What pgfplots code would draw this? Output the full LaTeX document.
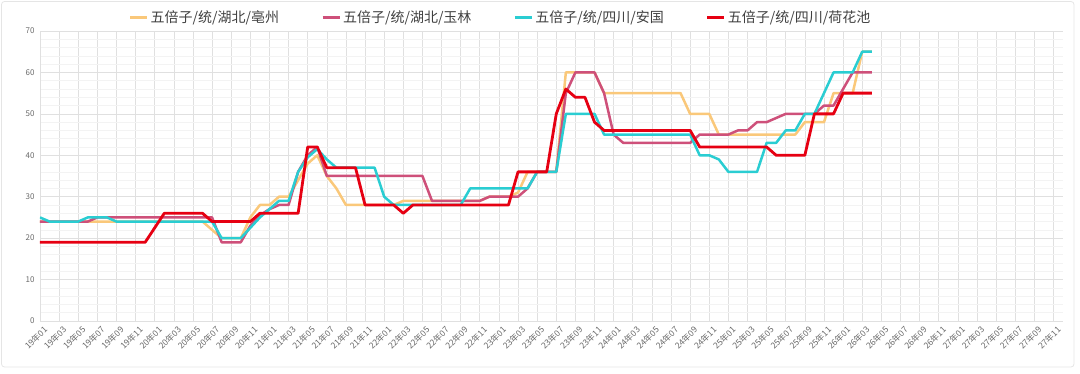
\documentclass[border=0pt]{standalone}
\usepackage{pgfplots}
\pgfplotsset{compat=1.18}
\usepackage{pgfplotstable}
\usepackage{fontspec}
\setmainfont{Noto Sans CJK SC}
\definecolor{cOr}{RGB}{250,200,122}
\definecolor{cMg}{RGB}{206,80,122}
\definecolor{cTl}{RGB}{42,205,210}
\definecolor{cRd}{RGB}{230,0,18}
\definecolor{gridc}{RGB}{224,224,224}
\definecolor{mgridc}{RGB}{243,243,243}
\definecolor{tickc}{RGB}{105,105,105}

\pgfplotstableread{
x a b c d
0 24 24 25 19
1 24 24 24 19
2 24 24 24 19
3 24 24 24 19
4 24 24 24 19
5 24 24 25 19
6 24 25 25 19
7 24 25 25 19
8 24 25 24 19
9 24 25 24 19
10 24 25 24 19
11 24 25 24 19
12 24 25 24 22.5
13 24 25 24 26
14 24 25 24 26
15 24 25 24 26
16 24 25 24 26
17 24 25 24 26
18 22 25 24 24
19 20 19 20 24
20 20 19 20 24
21 20 19 20 24
22 25 23 22.5 24
23 28 25.5 25 26
24 28 27 27 26
25 30 28 29 26
26 30 28 29 26
27 34 36 36 26
28 38 40 39.5 42
29 40 42 41.5 42
30 35 35 39 37
31 32 35 37 37
32 28 35 37 37
33 28 35 37 37
34 28 35 37 28
35 28 35 37 28
36 28 35 30 28
37 28 35 28 28
38 29 35 28 26
39 29 35 28 28
40 29 35 28 28
41 29 29 28 28
42 29 29 28 28
43 29 29 28 28
44 29 29 28 28
45 29 29 32 28
46 29 29 32 28
47 30 30 32 28
48 30 30 32 28
49 30 30 32 28
50 31 30 32 36
51 36 32 32 36
52 36 36 36 36
53 36 36 36 36
54 36 36 36 50
55 60 55 50 56
56 60 60 50 54
57 60 60 50 54
58 60 60 50 48
59 55 55 45 46
60 55 45 45 46
61 55 43 45 46
62 55 43 45 46
63 55 43 45 46
64 55 43 45 46
65 55 43 45 46
66 55 43 45 46
67 55 43 45 46
68 50 43 45 46
69 50 45 40 42
70 50 45 40 42
71 45 45 39 42
72 45 45 36 42
73 45 46 36 42
74 45 46 36 42
75 45 48 36 42
76 45 48 43 42
77 45 49 43 40
78 45 50 46 40
79 45 50 46 40
80 48 50 50 40
81 48 50 50 50
82 48 52 55 50
83 55 52 60 50
84 55 56 60 55
85 55 60 60 55
86 65 60 65 55
87 65 60 65 55
}\data

\begin{document}
\begin{tikzpicture}
\useasboundingbox (-40pt,-53pt) rectangle (1040pt,321pt);
\draw[rounded corners=3pt, color=black!10, line width=0.8pt] (-38.5pt,-46pt) rectangle (1034pt,319.5pt);
\begin{axis}[
  scale only axis, width=1023pt, height=290pt,
  at={(0,0)}, anchor=south west,
  xmin=0, xmax=107, ymin=0, ymax=70,
  xtick={0,2,...,106},
  xticklabels={19年01,19年03,19年05,19年07,19年09,19年11,
    20年01,20年03,20年05,20年07,20年09,20年11,
    21年01,21年03,21年05,21年07,21年09,21年11,
    22年01,22年03,22年05,22年07,22年09,22年11,
    23年01,23年03,23年05,23年07,23年09,23年11,
    24年01,24年03,24年05,24年07,24年09,24年11,
    25年01,25年03,25年05,25年07,25年09,25年11,
    26年01,26年03,26年05,26年07,26年09,26年11,
    27年01,27年03,27年05,27年07,27年09,27年11},
  ytick={0,10,...,70}, minor y tick num=4,
  xmajorgrids, ymajorgrids, yminorgrids,
  major grid style={draw=gridc, line width=0.6pt},
  minor grid style={draw=mgridc, line width=0.5pt},
  axis x line=bottom, axis y line=left,
  axis line style={draw=gridc, -, line width=0.6pt},
  major tick length=0pt, minor tick length=0pt,
  /pgf/number format/assume math mode=true,
  tick label style={font=\fontsize{8}{9}\selectfont, text=tickc},
  xticklabel style={font=\fontsize{8.5}{9}\selectfont, rotate=45, anchor=north east, inner sep=1pt, yshift=-4pt},
  yticklabel style={xshift=-2pt},
  legend columns=4,
  legend style={at={(0.5,1)}, anchor=center, xshift=-51pt, yshift=14pt,
    draw=none, fill=none, font=\fontsize{14}{16}\selectfont, text=black!75,
    /tikz/every even column/.append style={column sep=40pt}},
  legend cell align=left,
  legend image code/.code={\draw[#1, line width=3pt] (0pt,0pt) -- (17pt,0pt);},
]
\addplot[cOr, line width=2.5pt, line join=round] table[x=x,y=a]{\data};
\addlegendentry{五倍子/统/湖北/亳州}
\addplot[cMg, line width=2.5pt, line join=round] table[x=x,y=b]{\data};
\addlegendentry{五倍子/统/湖北/玉林}
\addplot[cTl, line width=2.5pt, line join=round] table[x=x,y=c]{\data};
\addlegendentry{五倍子/统/四川/安国}
\addplot[cRd, line width=2.8pt, line join=round] table[x=x,y=d]{\data};
\addlegendentry{五倍子/统/四川/荷花池}
\end{axis}
\end{tikzpicture}
\end{document}
